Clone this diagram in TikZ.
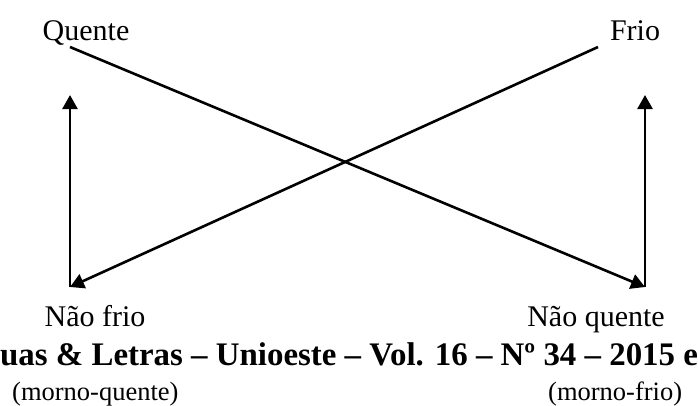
\documentclass[tikz,border=0pt]{standalone}
\usepackage{fontspec}
\setmainfont{Liberation Serif}
\usepackage{tikz}
\usetikzlibrary{positioning, calc, arrows.meta}
\definecolor{sqInk}{RGB}{0,0,0}

\begin{document}
\begin{tikzpicture}[x=1pt, y=-1pt,
    lbl/.style={inner sep=0pt, anchor=base, font=\fontsize{30}{36}\selectfont},
    note/.style={inner sep=0pt, anchor=base west, font=\fontsize{26.5}{32}\selectfont},
    banner/.style={inner sep=0pt, anchor=base west, font=\fontsize{32.9}{40}\selectfont\bfseries},
    link/.style={draw=sqInk, line width=2.6pt, -{Triangle[length=14pt, width=15pt]}}]
  \useasboundingbox (0,0) rectangle (698,405);
  \clip (0,0) rectangle (698,405);

  % the four terms of the square
  \node[lbl] (quente) at (86,40) {Quente};
  \node[lbl] (frio) at (635,40) {Frio};
  \node[lbl] (naofrio) at (95,326) {Não frio};
  \node[lbl] (naoquente) at (596,326) {Não quente};

  % running header of the page, cut at both sides
  \node[banner] (header) at (0,365) {uas \& Letras – Unioeste – Vol. 16 – Nº 34 – 2015 e};

  \node[note] (mornoq) at (12,400) {(morno-quente)};
  \node[note] (mornof) at (548,400) {(morno-frio)};

  % end points of the connectors
  \coordinate (qStart) at (70,47);
  \coordinate (fStart) at (598,47);
  \coordinate (nfEnd) at (70,287);
  \coordinate (nqEnd) at (645,287);
  \coordinate (nfTop) at (70,95);
  \coordinate (nqTop) at (645,95);

  \draw[link] (qStart) -- (nqEnd);
  \draw[link] (fStart) -- (nfEnd);
  \draw[link] (nfEnd) -- (nfTop);
  \draw[link] (nqEnd) -- (nqTop);
\end{tikzpicture}
\end{document}
